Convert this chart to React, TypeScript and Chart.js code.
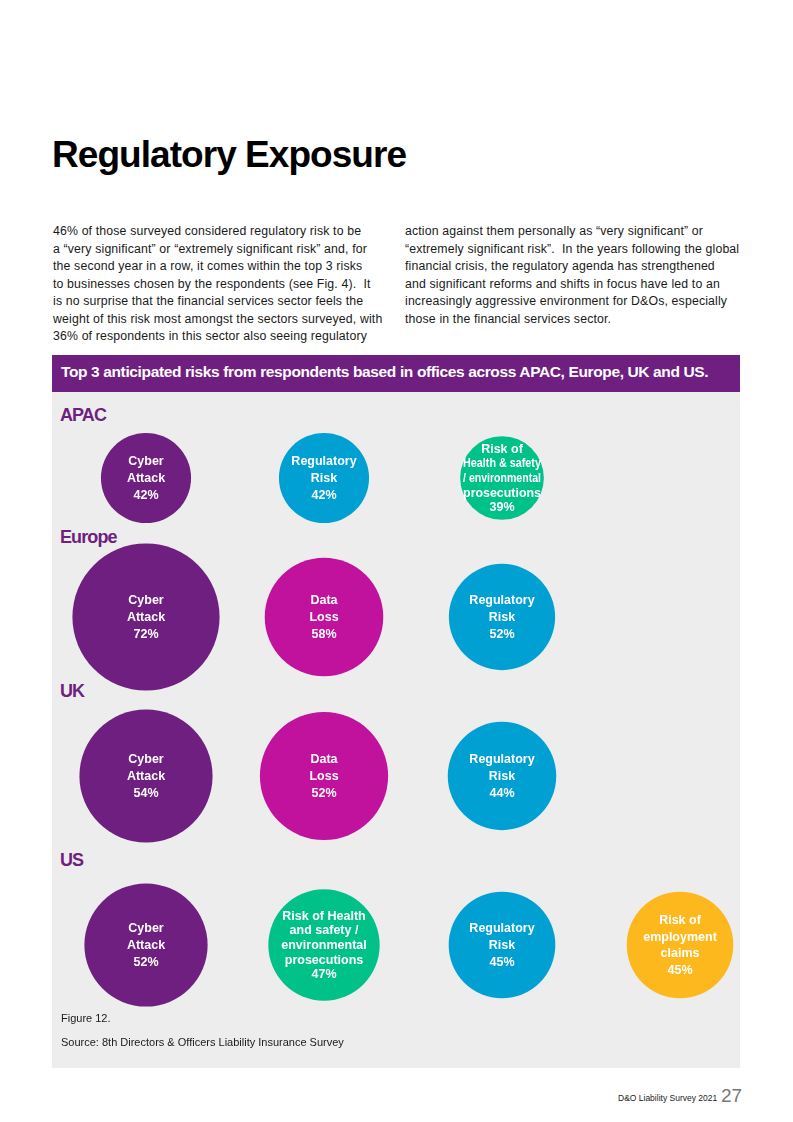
import React, { useEffect, useRef } from "react";
import { Chart, registerables } from "chart.js";

Chart.register(...registerables);

// ---------- data ----------
const regions = ["APAC", "Europe", "UK", "US"];

const apacRisks = ["Cyber\nAttack", "Regulatory\nRisk", "Risk of\nHealth & safety\n/ environmental\nprosecutions"];
const apacValues = [42, 42, 39];

const europeRisks = ["Cyber\nAttack", "Data\nLoss", "Regulatory\nRisk"];
const europeValues = [72, 58, 52];

const ukRisks = ["Cyber\nAttack", "Data\nLoss", "Regulatory\nRisk"];
const ukValues = [54, 52, 44];

const usRisks = [
  "Cyber\nAttack",
  "Risk of Health\nand safety /\nenvironmental\nprosecutions",
  "Regulatory\nRisk",
  "Risk of\nemployment\nclaims",
];
const usValues = [52, 47, 45, 45];

const leftParagraph = [
  "46% of those surveyed considered regulatory risk to be",
  "a \u201cvery significant\u201d or \u201cextremely significant risk\u201d and, for",
  "the second year in a row, it comes within the top 3 risks",
  "to businesses chosen by the respondents (see Fig. 4).  It",
  "is no surprise that the financial services sector feels the",
  "weight of this risk most amongst the sectors surveyed, with",
  "36% of respondents in this sector also seeing regulatory",
];
const rightParagraph = [
  "action against them personally as \u201cvery significant\u201d or",
  "\u201cextremely significant risk\u201d.  In the years following the global",
  "financial crisis, the regulatory agenda has strengthened",
  "and significant reforms and shifts in focus have led to an",
  "increasingly aggressive environment for D&Os, especially",
  "those in the financial services sector.",
];

// ---------- styles / layout ----------
const FONT = '"Liberation Sans", Arial, Helvetica, sans-serif';
const PURPLE = "#6e1f80";
const riskColors: Record<string, string> = {
  Cyber: "#6e1f80",
  Regulatory: "#00a0d3",
  Data: "#c1129e",
  Health: "#00c289",
  employment: "#fdb81e",
};
function colorFor(label: string): string {
  if (label.startsWith("Cyber")) return riskColors.Cyber;
  if (label.startsWith("Regulatory")) return riskColors.Regulatory;
  if (label.startsWith("Data")) return riskColors.Data;
  if (label.includes("employment")) return riskColors.employment;
  return riskColors.Health;
}

const PANEL_LEFT = 52;
const PANEL_WIDTH = 688;
const ROW_HALF = 85;
const FIRST_COL = 94; // px from panel left
const COL_STEP = 178; // px between columns

const rowLayout = [
  { center: 478, labelTop: 406, sizeScale: 1.073 },
  { center: 617, labelTop: 528, sizeScale: 1.022 },
  { center: 776, labelTop: 682, sizeScale: 1.233 },
  { center: 945, labelTop: 851, sizeScale: 1.185 },
];

const bubbleTextPlugin = {
  id: "bubbleText",
  afterDatasetsDraw(chart: any) {
    const ctx = chart.ctx;
    const meta = chart.getDatasetMeta(0);
    const ds = chart.data.datasets[0];
    meta.data.forEach((el: any, i: number) => {
      const raw = ds.data[i];
      const lines = [...raw.label.split("\n"), raw.v + "%"];
      const dense = lines.length >= 5;
      const lh = dense ? 14.6 : 16.8;
      const r = el.options.radius;
      const maxW = r * 2 * 0.93;
      ctx.save();
      ctx.fillStyle = "#ffffff";
      ctx.font = `bold 12.5px ${FONT}`;
      ctx.textAlign = "center";
      ctx.textBaseline = "middle";
      const y0 = el.y - ((lines.length - 1) * lh) / 2 + 0.5;
      lines.forEach((line: string, k: number) => {
        const w = ctx.measureText(line).width;
        const s = w > maxW ? maxW / w : 1;
        ctx.save();
        ctx.translate(el.x, y0 + k * lh);
        ctx.scale(s, 1);
        ctx.fillText(line, 0, 0);
        ctx.restore();
      });
      ctx.restore();
    });
  },
};

function RowChart({ risks, values, layout }: { risks: string[]; values: number[]; layout: any }) {
  const ref = useRef<HTMLCanvasElement>(null);
  useEffect(() => {
    if (!ref.current) return;
    const min = -FIRST_COL / COL_STEP;
    const max = min + PANEL_WIDTH / COL_STEP;
    const chart = new Chart(ref.current, {
      type: "bubble",
      data: {
        datasets: [
          {
            data: risks.map((label, i) => ({ x: i, y: 0, v: values[i], label })) as any,
            backgroundColor: risks.map(colorFor),
            borderWidth: 0,
            radius: (c: any) => (c.raw ? c.raw.v * layout.sizeScale : 0),
            clip: false as any,
          } as any,
        ],
      },
      options: {
        responsive: false,
        animation: false,
        events: [],
        layout: { padding: 0, autoPadding: false },
        plugins: { legend: { display: false }, tooltip: { enabled: false } },
        scales: {
          x: { type: "linear", display: false, min, max },
          y: { type: "linear", display: false, min: -1, max: 1 },
        },
      },
      plugins: [bubbleTextPlugin],
    });
    return () => chart.destroy();
  }, []);
  return (
    <canvas
      ref={ref}
      width={PANEL_WIDTH}
      height={ROW_HALF * 2}
      style={{
        position: "absolute",
        left: PANEL_LEFT,
        top: layout.center - ROW_HALF,
        width: PANEL_WIDTH,
        height: ROW_HALF * 2,
      }}
    />
  );
}

const rowsData = [
  { risks: apacRisks, values: apacValues },
  { risks: europeRisks, values: europeValues },
  { risks: ukRisks, values: ukValues },
  { risks: usRisks, values: usValues },
];

export default function App() {
  const para: React.CSSProperties = {
    position: "absolute",
    top: 223,
    fontFamily: FONT,
    fontSize: 12.3,
    letterSpacing: "0.15px",
    lineHeight: "17.5px",
    color: "#1a1a1a",
    whiteSpace: "pre",
  };
  return (
    <div
      style={{
        position: "absolute",
        left: 0,
        top: 0,
        width: 793,
        height: 1122,
        background: "#ffffff",
        fontFamily: FONT,
        overflow: "hidden",
      }}
    >
      <div
        style={{
          position: "absolute",
          left: 52,
          top: 136,
          fontSize: 37,
          lineHeight: "37px",
          fontWeight: "bold",
          letterSpacing: "-0.95px",
          color: "#000",
          whiteSpace: "nowrap",
        }}
      >
        Regulatory Exposure
      </div>
      <div style={{ ...para, left: 53 }}>
        {leftParagraph.map((l, i) => (
          <div key={i}>{l}</div>
        ))}
      </div>
      <div style={{ ...para, left: 405 }}>
        {rightParagraph.map((l, i) => (
          <div key={i}>{l}</div>
        ))}
      </div>

      <div style={{ position: "absolute", left: 52, top: 355, width: 688, height: 37, background: PURPLE }} />
      <div
        style={{
          position: "absolute",
          left: 61,
          top: 362,
          fontSize: 15.5,
          lineHeight: "20px",
          fontWeight: "bold",
          letterSpacing: "-0.37px",
          color: "#fff",
          whiteSpace: "nowrap",
        }}
      >
        Top 3 anticipated risks from respondents based in offices across APAC, Europe, UK and US.
      </div>
      <div style={{ position: "absolute", left: 52, top: 392, width: 688, height: 676, background: "#ededed" }} />

      {regions.map((r, i) => (
        <div
          key={r}
          style={{
            position: "absolute",
            left: 60,
            top: rowLayout[i].labelTop,
            fontSize: 18,
            lineHeight: "18px",
            fontWeight: "bold",
            letterSpacing: "-0.9px",
            color: PURPLE,
          }}
        >
          {r}
        </div>
      ))}

      {rowsData.map((row, i) => (
        <RowChart key={i} risks={row.risks} values={row.values} layout={rowLayout[i]} />
      ))}

      <div style={{ position: "absolute", left: 61, top: 1012, fontSize: 11, lineHeight: "13px", color: "#1a1a1a" }}>
        Figure 12.
      </div>
      <div
        style={{
          position: "absolute",
          left: 61,
          top: 1036,
          fontSize: 11,
          lineHeight: "13px",
          color: "#1a1a1a",
          whiteSpace: "nowrap",
        }}
      >
        Source: 8th Directors &amp; Officers Liability Insurance Survey
      </div>

      <div
        style={{
          position: "absolute",
          left: 618,
          top: 1093,
          fontSize: 8.5,
          lineHeight: "10px",
          color: "#222",
          whiteSpace: "nowrap",
        }}
      >
        D&amp;O Liability Survey 2021
      </div>
      <div
        style={{
          position: "absolute",
          left: 721,
          top: 1086,
          fontSize: 19,
          lineHeight: "19px",
          color: "#777",
          whiteSpace: "nowrap",
        }}
      >
        27
      </div>
    </div>
  );
}
